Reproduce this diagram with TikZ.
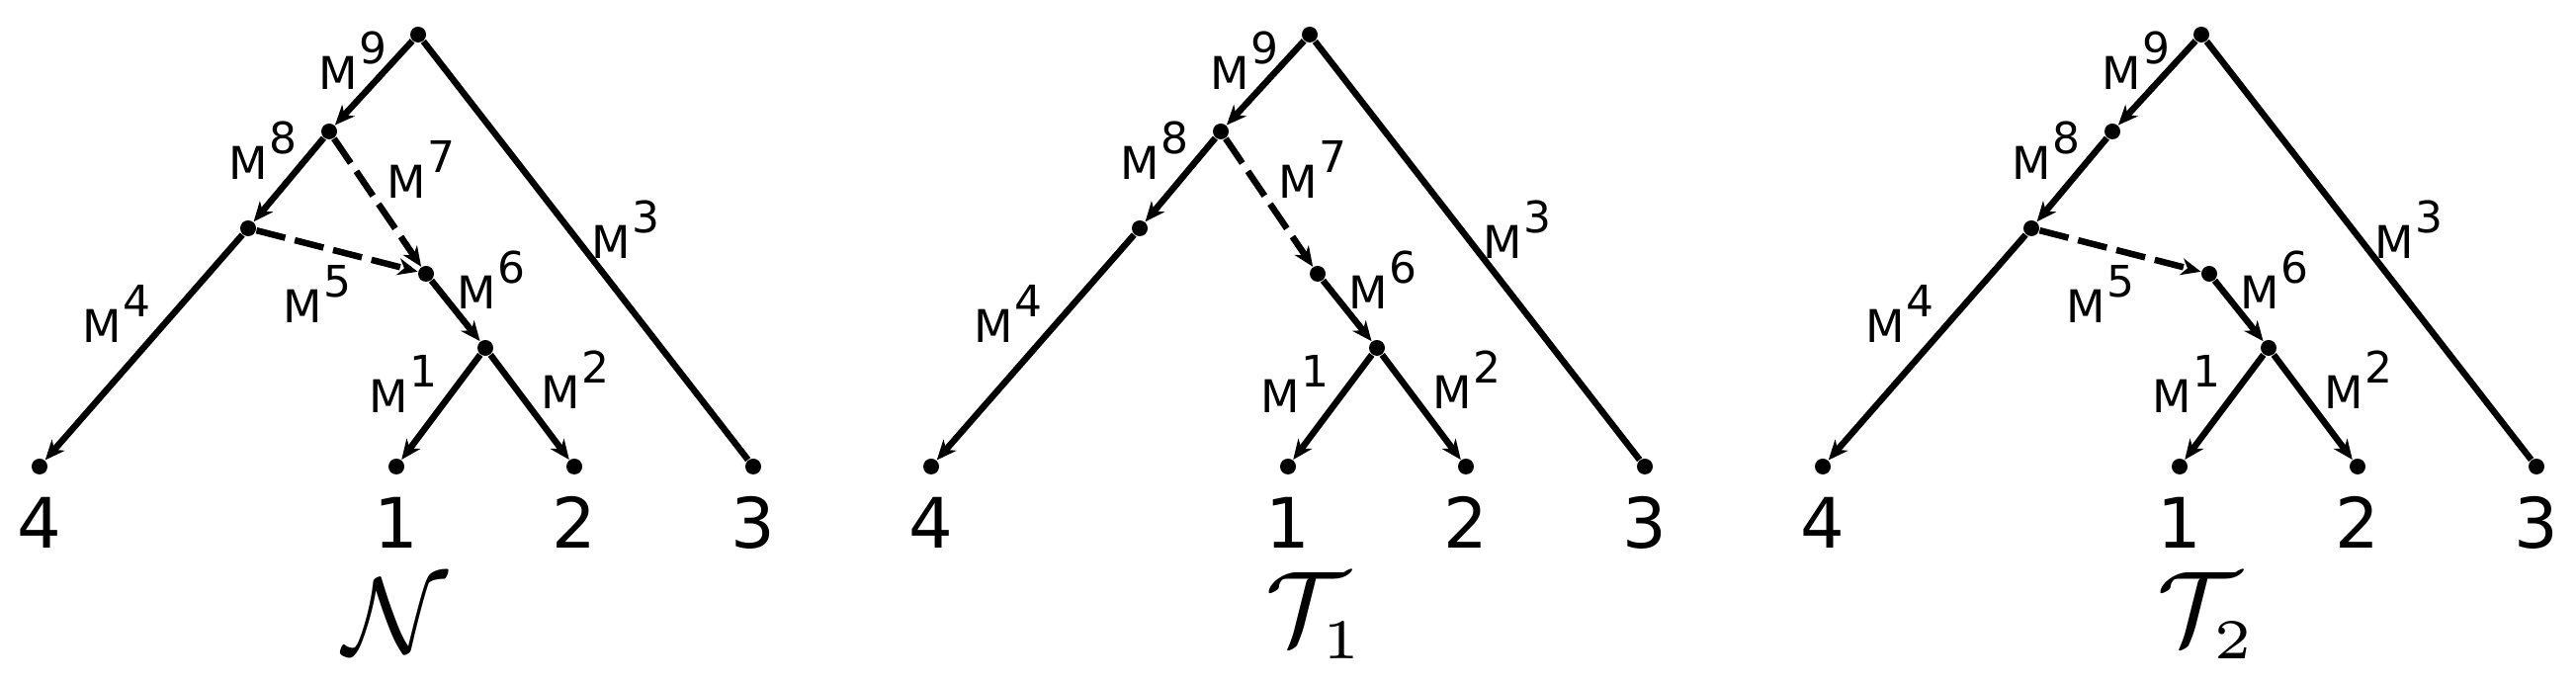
\documentclass[tikz,border=0pt]{standalone}
\usepackage{fontspec}
\usepackage{amssymb}
\usetikzlibrary{arrows.meta}
\newfontfamily\labfont{DejaVu Sans}
\newcommand{\mlab}[1]{{\labfont\fontsize{13}{13}\selectfont M\kern0.05em\raisebox{7.4pt}{\fontsize{12.5}{12.5}\selectfont #1}}}
\newcommand{\tsub}[1]{\mbox{\fontsize{5.4}{6}\selectfont #1}}

\begin{document}
\begin{tikzpicture}[x=0.01cm, y=-0.01cm,
    dot/.style={circle, fill, inner sep=0pt, minimum size=0.16cm},
    branch/.style={line width=0.065cm},
    arr/.style={branch, -{Stealth[length=0.2cm, width=0.17cm, inset=0.06cm]}},
    hyb/.style={arr, dash pattern=on 0.3cm off 0.1cm},
    lab/.style={inner sep=0pt},
    leaf/.style={anchor=base, inner sep=0pt, font=\labfont\fontsize{20}{20}\selectfont}]
    \useasboundingbox (0,0) rectangle (2606,692);
    \foreach \t/\dx in {n/0, a/902, b/1804} {
        \begin{scope}[shift={(\dx,0)}]
            \node[dot] (\t R) at (423,35) {};
            \node[dot] (\t A) at (333,133) {};
            \node[dot] (\t B) at (251,231) {};
            \node[dot] (\t H) at (431,277) {};
            \node[dot] (\t C) at (491,352) {};
            \foreach \k/\x in {4/40, 1/401, 2/581, 3/762} {
                \node[dot] (\t L\k) at (\x,472) {};
                \node[leaf] (\t N\k) at (\x,555) {\k};
            }
            \draw[arr] (\t R) -- (\t A);
            \draw[arr] (\t A) -- (\t B);
            \draw[arr] (\t B) -- (\t L4);
            \draw[arr] (\t H) -- (\t C);
            \draw[arr] (\t C) -- (\t L1);
            \draw[arr] (\t C) -- (\t L2);
            \draw[branch] (\t R) -- (\t L3);
            \foreach \k/\x/\y in {9/357/61, 8/266/152, 4/118/317, 6/497/283, 1/408/388, 2/582/384, 3/633/232}
                \node[lab] (\t M\k) at (\x,\y) {\mlab{\k}};
        \end{scope}
    }
    \draw[hyb] (nA) -- (nH);
    \draw[hyb] (nB) -- (nH);
    \draw[hyb] (aA) -- (aH);
    \draw[hyb] (bB) -- (bH);
    \node[lab] (nM7) at (426,171) {\mlab{7}};
    \node[lab] (aM7) at (1328,171) {\mlab{7}};
    \node[lab] (nM5) at (321,297) {\mlab{5}};
    \node[lab] (bM5) at (2125,297) {\mlab{5}};
    \node[lab] (nName) at (400,623) {\scalebox{3.1}{$\mathcal{N}$}};
    \node[lab] (aName) at (1331,623) {\scalebox{3}{$\mathcal{T}_{\tsub{1}}$}};
    \node[lab] (bName) at (2233,623) {\scalebox{3}{$\mathcal{T}_{\tsub{2}}$}};
\end{tikzpicture}
\end{document}
